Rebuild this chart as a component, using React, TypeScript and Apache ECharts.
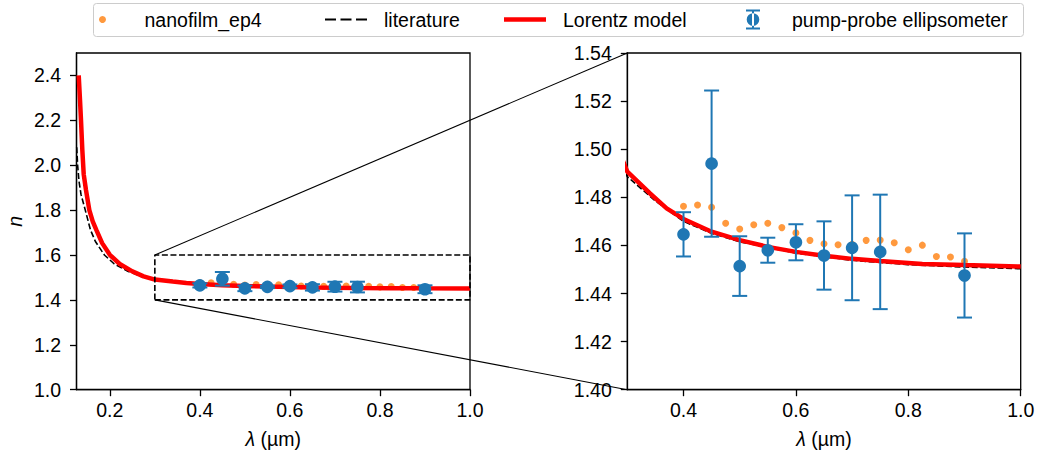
import React, { useEffect, useRef } from 'react';
import * as echarts from 'echarts';

// ---------- data ----------
const nanofilmLambda = [0.4, 0.425, 0.45, 0.475, 0.5, 0.525, 0.55, 0.575, 0.6, 0.625, 0.65, 0.675, 0.7, 0.725, 0.75, 0.775, 0.8, 0.825, 0.85, 0.875, 0.9];
const nanofilmN = [1.4763, 1.4768, 1.4759, 1.4692, 1.4668, 1.4686, 1.4692, 1.4674, 1.4652, 1.4621, 1.4607, 1.4603, 1.4605, 1.4621, 1.4622, 1.4611, 1.4582, 1.4601, 1.4554, 1.4552, 1.4534];

const ellipsLambda = [0.4, 0.45, 0.5, 0.55, 0.6, 0.65, 0.7, 0.75, 0.9];
const ellipsN = [1.4646, 1.494, 1.4514, 1.458, 1.4613, 1.4558, 1.459, 1.4573, 1.4475];
const ellipsErr = [0.0092, 0.0304, 0.0124, 0.0052, 0.0075, 0.0142, 0.0218, 0.0238, 0.0175];

const lorentzLambda = [0.1309, 0.1338, 0.136, 0.1389, 0.142, 0.147, 0.1545, 0.162, 0.17, 0.183, 0.2, 0.222, 0.25, 0.275, 0.3, 0.34, 0.37, 0.4, 0.45, 0.5, 0.55, 0.6, 0.65, 0.7, 0.75, 0.825, 0.9, 1.0];
const lorentzN = [2.4, 2.29, 2.2, 2.07, 1.96, 1.89, 1.8, 1.75, 1.712, 1.653, 1.601, 1.56, 1.527, 1.505, 1.4907, 1.4817, 1.4754, 1.471, 1.4657, 1.4622, 1.4594, 1.4573, 1.4557, 1.4544, 1.4535, 1.4523, 1.4518, 1.4512];

const literatureLambda = [0.1265, 0.1285, 0.1315, 0.136, 0.1455, 0.157, 0.168, 0.188, 0.21, 0.24, 0.27, 0.3, 0.35, 0.4, 0.45, 0.5, 0.6, 0.7, 0.8, 0.9, 1.0];
const literatureN = [2.08, 2.0, 1.93, 1.87, 1.8, 1.712, 1.66, 1.6, 1.56, 1.528, 1.504, 1.4886, 1.4785, 1.47, 1.465, 1.4615, 1.4568, 1.4538, 1.452, 1.451, 1.4503];

const leftXTicks = [0.2, 0.4, 0.6, 0.8, 1.0];
const leftYTicks = [1.0, 1.2, 1.4, 1.6, 1.8, 2.0, 2.2, 2.4];
const rightXTicks = [0.4, 0.6, 0.8, 1.0];
const rightYTicks = [1.4, 1.42, 1.44, 1.46, 1.48, 1.5, 1.52, 1.54];
const leftRange = { xMin: 0.126, xMax: 1.0, yMin: 1.0, yMax: 2.5 };
const rightRange = { xMin: 0.3, xMax: 1.0, yMin: 1.4, yMax: 1.54 };
const insetBox = [0.3, 1.0, 1.4, 1.6]; // x0, x1, y0, y1

const LEGEND_NAMES = ['nanofilm_ep4', 'literature', 'Lorentz model', 'pump-probe ellipsometer'];

// ---------- styles ----------
const FONT = "'Liberation Sans', Arial, Helvetica, sans-serif";
const FS = 19.5;
const BLUE = '#1f77b4';
const ORANGE = '#ff7f0e';
const RED = '#ff0000';
const DASH = [6, 2.6];
const LEG_Y = 19.5;

const zip = (a: number[], b: number[]) => a.map((v, i) => [v, b[i]]);

function axisBase(ticks: number[], digits: number, margin: number) {
  return {
    type: 'value',
    axisLine: { show: true, onZero: false, lineStyle: { color: '#000', width: 1.3 } },
    axisTick: { show: true, length: 6.5, customValues: ticks, lineStyle: { color: '#000', width: 1.3 } },
    splitLine: { show: false },
    axisLabel: {
      color: '#000', fontSize: FS, fontFamily: FONT, margin,
      customValues: ticks,
      formatter: (v: number) => v.toFixed(digits),
    },
  };
}

const xName = {
  name: '{i|λ} (µm)',
  nameLocation: 'middle',
  nameGap: 39,
  nameTextStyle: {
    color: '#000', fontSize: FS, fontFamily: FONT,
    rich: { i: { fontStyle: 'italic', fontSize: FS, fontFamily: FONT, color: '#000' } },
  },
};

function errorRender(params: any, api: any) {
  const x = api.value(0), y = api.value(1), e = api.value(2);
  const c = api.coord([x, y]);
  const t = api.coord([x, y + e]);
  const b = api.coord([x, y - e]);
  const cw = 7.5;
  const st = { stroke: BLUE, lineWidth: 2 };
  return {
    type: 'group',
    children: [
      { type: 'line', shape: { x1: c[0], y1: t[1], x2: c[0], y2: b[1] }, style: st },
      { type: 'line', shape: { x1: c[0] - cw, y1: t[1], x2: c[0] + cw, y2: t[1] }, style: st },
      { type: 'line', shape: { x1: c[0] - cw, y1: b[1], x2: c[0] + cw, y2: b[1] }, style: st },
      { type: 'circle', shape: { cx: c[0], cy: c[1], r: 6.3 }, style: { fill: BLUE } },
    ],
  };
}

function seriesFor(i: number) {
  return [
    {
      name: 'nanofilm_ep4', type: 'scatter', xAxisIndex: i, yAxisIndex: i, z: 1, silent: true,
      symbol: 'circle', symbolSize: 7, itemStyle: { color: ORANGE },
      data: zip(nanofilmLambda, nanofilmN),
    },
    {
      name: 'literature', type: 'line', xAxisIndex: i, yAxisIndex: i, z: 2, silent: true,
      symbol: 'none', color: '#000', itemStyle: { color: '#000' },
      lineStyle: { color: '#000', width: 1.6, type: DASH },
      data: zip(literatureLambda, literatureN),
    },
    {
      name: 'Lorentz model', type: 'line', xAxisIndex: i, yAxisIndex: i, z: 3, silent: true,
      symbol: 'none', color: RED, itemStyle: { color: RED },
      lineStyle: { color: RED, width: 4.5 },
      data: zip(lorentzLambda, lorentzN),
    },
    {
      name: 'pump-probe ellipsometer', type: 'custom', xAxisIndex: i, yAxisIndex: i, z: 5, silent: true,
      itemStyle: { color: BLUE },
      renderItem: errorRender,
      encode: { x: 0, y: 1 },
      data: ellipsLambda.map((l, k) => [l, ellipsN[k], ellipsErr[k]]),
    },
  ];
}

const legendText = (padLeft: number) => ({
  color: '#000', fontSize: FS, fontFamily: FONT, lineHeight: 22, padding: [0, 0, 0, padLeft],
});

const legendCommon = { top: LEG_Y - 11, padding: 0, selectedMode: false, orient: 'horizontal' };

const legendLeft = [99, 325, 504, 746];

const baseGraphic = [
  {
    id: 'legend-frame', type: 'rect', z: 0,
    shape: { x: 93.5, y: 3.5, width: 930, height: 33, r: 3 },
    style: { fill: '#fff', stroke: '#cccccc', lineWidth: 1 },
  },
  {
    id: 'legend-literature', type: 'line', z: 5, silent: true,
    shape: { x1: legendLeft[1], y1: LEG_Y, x2: legendLeft[1] + 42, y2: LEG_Y },
    style: { stroke: '#000', lineWidth: 1.8, lineDash: [11, 4.5] },
  },
  {
    id: 'legend-lorentz', type: 'line', z: 5, silent: true,
    shape: { x1: legendLeft[2], y1: LEG_Y, x2: legendLeft[2] + 42, y2: LEG_Y },
    style: { stroke: RED, lineWidth: 4.5 },
  },
];

const option: any = {
  animation: false,
  grid: [
    { left: 76.5, top: 53, width: 393.5, height: 336.7, show: true, borderColor: '#000', borderWidth: 1.3, containLabel: false },
    { left: 627.3, top: 53, width: 393.4, height: 336.7, show: true, borderColor: '#000', borderWidth: 1.3, containLabel: false },
  ],
  xAxis: [
    { ...axisBase(leftXTicks, 1, 10), gridIndex: 0, min: leftRange.xMin, max: leftRange.xMax, ...xName },
    { ...axisBase(rightXTicks, 1, 10), gridIndex: 1, min: rightRange.xMin, max: rightRange.xMax, ...xName },
  ],
  yAxis: [
    {
      ...axisBase(leftYTicks, 1, 15.5), gridIndex: 0, min: leftRange.yMin, max: leftRange.yMax,
      name: 'n', nameLocation: 'middle', nameRotate: 90, nameGap: 52,
      nameTextStyle: { color: '#000', fontSize: FS, fontFamily: FONT, fontStyle: 'italic' },
    },
    { ...axisBase(rightYTicks, 2, 15.5), gridIndex: 1, min: rightRange.yMin, max: rightRange.yMax },
  ],
  legend: [
    {
      ...legendCommon, left: legendLeft[0], itemWidth: 42, itemHeight: 7,
      data: [{ name: LEGEND_NAMES[0], icon: 'circle', itemStyle: { color: ORANGE } }],
      textStyle: legendText(16),
    },
    {
      ...legendCommon, left: legendLeft[1], itemWidth: 42, itemHeight: 14,
      data: [{ name: LEGEND_NAMES[1], icon: 'none' }],
      textStyle: legendText(12),
    },
    {
      ...legendCommon, left: legendLeft[2], itemWidth: 42, itemHeight: 14,
      data: [{ name: LEGEND_NAMES[2], icon: 'none' }],
      textStyle: legendText(12),
    },
    {
      ...legendCommon, left: legendLeft[3], itemWidth: 14, itemHeight: 20,
      data: [{
        name: LEGEND_NAMES[3],
        icon: 'path://M0,0H14V2H0Z M6,0H8V20H6Z M0,18H14V20H0Z M0.7,10A6.3,6.3,0,1,0,13.3,10A6.3,6.3,0,1,0,0.7,10Z',
        itemStyle: { color: BLUE },
      }],
      textStyle: legendText(27),
    },
  ],
  series: [
    ...seriesFor(0),
    {
      name: 'inset-box', type: 'line', xAxisIndex: 0, yAxisIndex: 0, z: 4, silent: true, clip: false,
      symbol: 'none', lineStyle: { color: '#000', width: 1.6, type: DASH },
      data: [
        [insetBox[0], insetBox[2]], [insetBox[1], insetBox[2]], [insetBox[1], insetBox[3]],
        [insetBox[0], insetBox[3]], [insetBox[0], insetBox[2]],
      ],
    },
    ...seriesFor(1),
  ],
  graphic: baseGraphic,
};

export default function App() {
  const ref = useRef<HTMLDivElement>(null);
  useEffect(() => {
    const chart = echarts.init(ref.current!, null, { renderer: 'svg' });
    chart.setOption(option);
    const f0 = { xAxisIndex: 0, yAxisIndex: 0 };
    const f1 = { xAxisIndex: 1, yAxisIndex: 1 };
    const aTop = chart.convertToPixel(f0, [insetBox[0], insetBox[3]]) as number[];
    const aBot = chart.convertToPixel(f0, [insetBox[0], insetBox[2]]) as number[];
    const bTop = chart.convertToPixel(f1, [rightRange.xMin, rightRange.yMax]) as number[];
    const bBot = chart.convertToPixel(f1, [rightRange.xMin, rightRange.yMin]) as number[];
    const st = { stroke: '#000', lineWidth: 1.1 };
    chart.setOption({
      graphic: [
        ...baseGraphic,
        { id: 'conn-top', type: 'line', z: 6, silent: true, shape: { x1: aTop[0], y1: aTop[1], x2: bTop[0], y2: bTop[1] }, style: st },
        { id: 'conn-bot', type: 'line', z: 6, silent: true, shape: { x1: aBot[0], y1: aBot[1], x2: bBot[0], y2: bBot[1] }, style: st },
      ],
    });
    return () => chart.dispose();
  }, []);
  return <div ref={ref} style={{ position: 'absolute', left: 0, top: 0, width: 1039, height: 458 }} />;
}
